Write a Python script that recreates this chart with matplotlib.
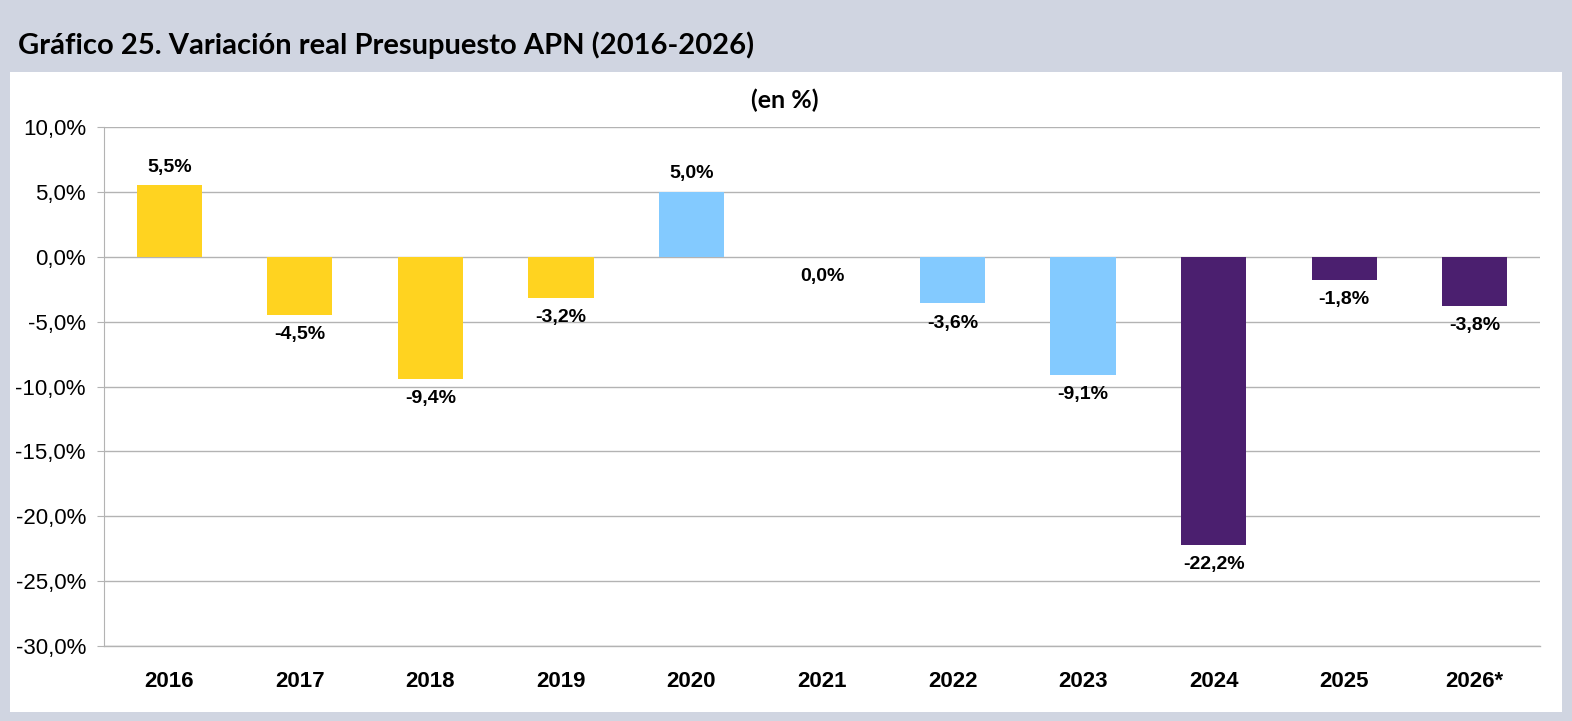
import numpy as np
import matplotlib.pyplot as plt
from matplotlib.patches import Rectangle

years = ["2016", "2017", "2018", "2019", "2020", "2021", "2022", "2023", "2024", "2025", "2026*"]
values = [5.5, -4.5, -9.4, -3.2, 5.0, 0.0, -3.6, -9.1, -22.2, -1.8, -3.8]
colors = ["#FFD320"] * 4 + ["#83CAFF"] * 4 + ["#4B1F6F"] * 3

W, H = 1572, 721
fig = plt.figure(figsize=(W / 100, H / 100), dpi=100)
fig.patch.set_facecolor("#D0D5E1")

# white panel
fig.patches.append(Rectangle((10 / W, 1 - 712 / H), (1562 - 10) / W, (712 - 72) / H,
                             transform=fig.transFigure, facecolor="white",
                             edgecolor="none", zorder=-1))

fig.text(18 / W, 1 - 45 / H, "Gráfico 25. Variación real Presupuesto APN (2016-2026)",
         fontsize=21, fontweight="bold", family="Lato", va="center", ha="left")
fig.text(785 / W, 1 - 100 / H, "(en %)", fontsize=18, fontweight="bold",
         family="Lato", va="center", ha="center")

ax = fig.add_axes([104 / W, 1 - 646 / H, (1540 - 104) / W, (646 - 127) / H])
ax.set_zorder(2)
ax.set_facecolor("white")

x = np.arange(len(years))
ax.bar(x, values, width=0.5, color=colors, zorder=3)

for xi, v in zip(x, values):
    lab = f"{v:.1f}%".replace(".", ",")
    if v > 0:
        ax.annotate(lab, (xi, v), xytext=(0, 7), textcoords="offset points",
                    ha="center", va="bottom", fontsize=14, fontweight="bold",
                    family="Liberation Sans")
    else:
        ax.annotate(lab, (xi, v), xytext=(0, -8), textcoords="offset points",
                    ha="center", va="top", fontsize=14, fontweight="bold",
                    family="Liberation Sans")

ax.set_xlim(-0.5, len(years) - 0.5)
ax.set_ylim(-30, 10)
yt = np.arange(-30, 10.1, 5)
ax.set_yticks(yt)
ax.set_yticklabels([f"{t:.1f}%".replace(".", ",") for t in yt],
                   family="Liberation Sans", fontsize=16)
ax.set_xticks(x)
ax.set_xticklabels(years, family="Liberation Sans", fontsize=16, fontweight="bold")
ax.tick_params(axis="x", length=0, pad=18)
ax.tick_params(axis="y", length=5, color="#B3B3B3", pad=8)

ax.grid(axis="y", color="#B3B3B3", linewidth=1, zorder=0)
ax.axhline(-30, color="#B3B3B3", linewidth=1, clip_on=False, zorder=0)
for s in ["top", "right", "bottom"]:
    ax.spines[s].set_visible(False)
ax.spines["left"].set_color("#B3B3B3")

plt.savefig("out.png", dpi=100, facecolor=fig.get_facecolor())
